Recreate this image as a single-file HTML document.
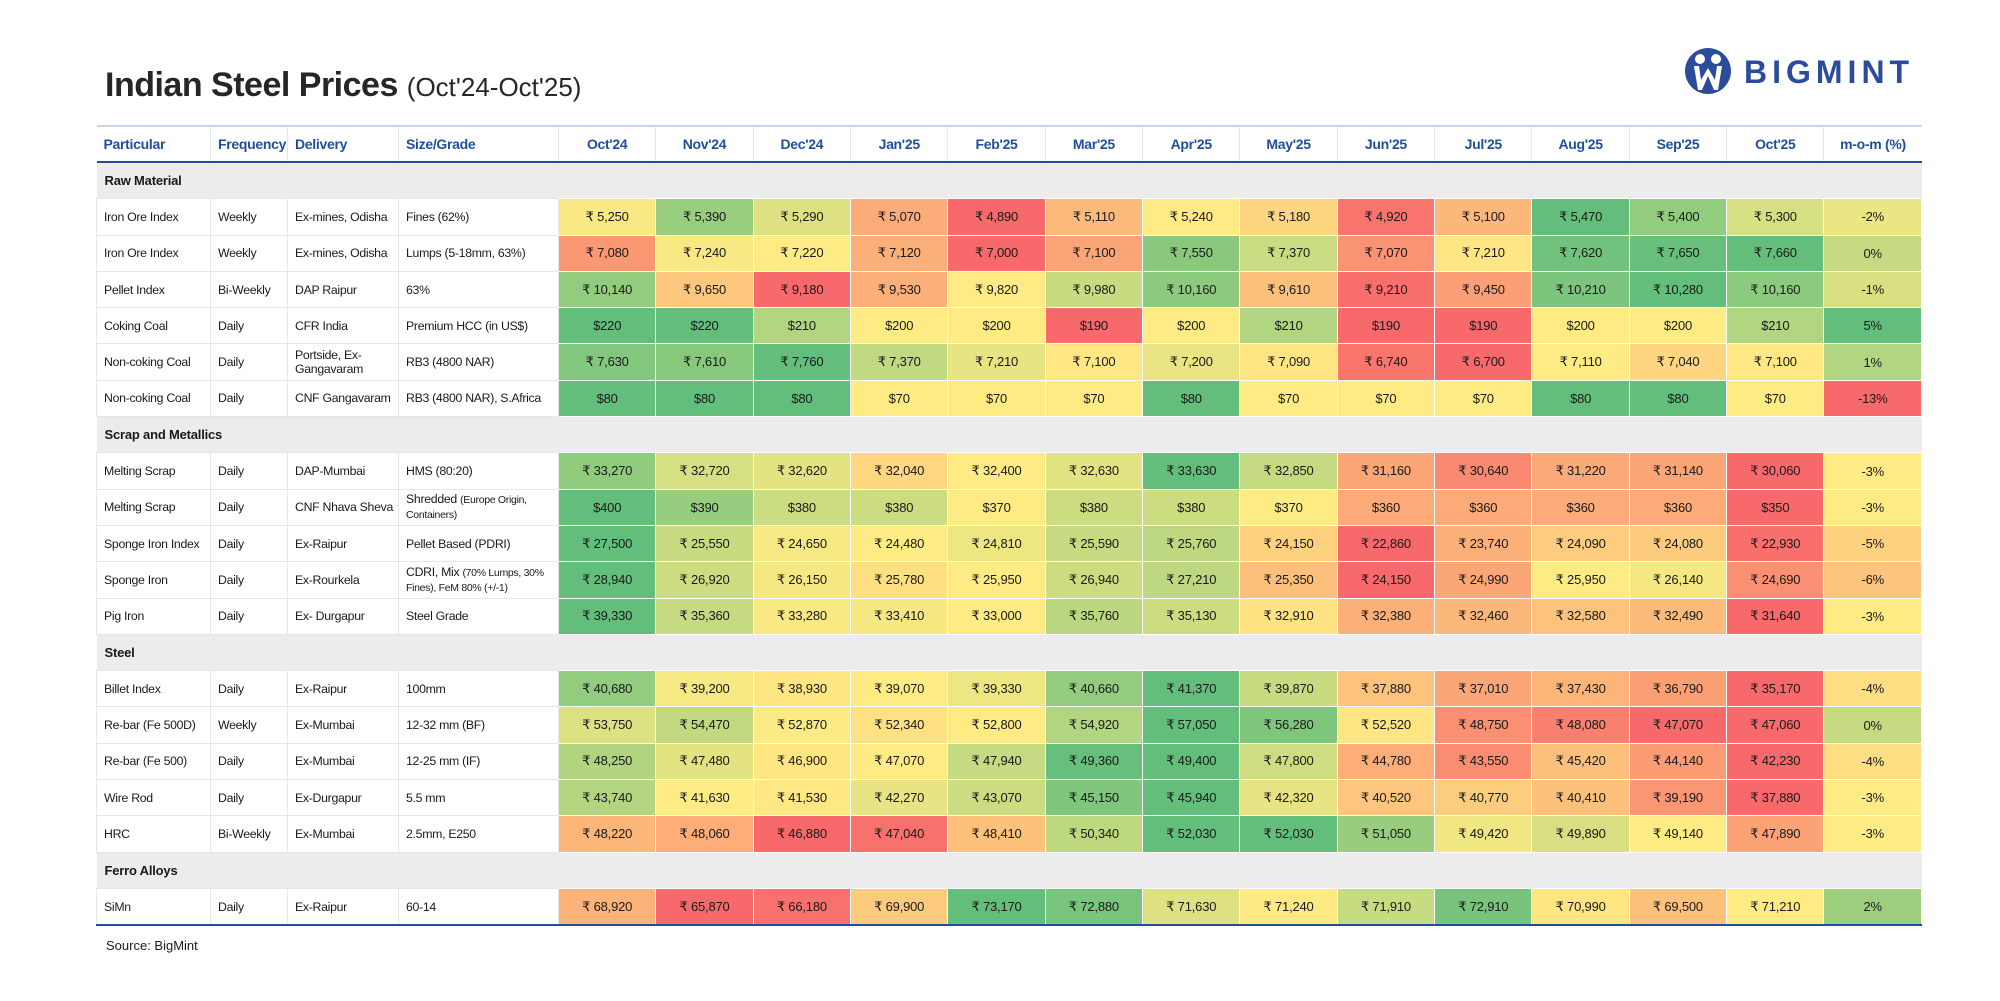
<!DOCTYPE html>
<html><head><meta charset="utf-8">
<style>
body{margin:0;width:2000px;height:1001px;background:#fff;font-family:"Liberation Sans",sans-serif;position:relative;overflow:hidden;}
#title{position:absolute;left:105px;top:66px;font-size:34px;font-weight:bold;color:#262626;letter-spacing:-0.5px;white-space:nowrap}
#title span{font-weight:normal;font-size:26px;letter-spacing:0}
#logo{position:absolute;left:1684px;top:46px}
table{position:absolute;left:96px;top:125px;border-collapse:collapse;table-layout:fixed;width:1826px;font-size:13px;color:#1a1a1a;letter-spacing:-0.2px}
th{height:34px;color:#1f4e9c;font-weight:bold;font-size:14px;letter-spacing:-0.3px;border-top:2px solid #c9d6e6;border-bottom:2px solid #1f4e9c;border-left:1px solid #e2e8ef;text-align:center;padding:0;white-space:nowrap}
th.l{text-align:left;padding-left:7px}
th:first-child{border-left:none}
td{padding:0;border:1px solid #e6e6e6;text-align:center;white-space:nowrap;overflow:hidden}
td>div{height:35.3px;display:flex;align-items:center;justify-content:center;overflow:hidden}
td.l>div{justify-content:flex-start;padding-left:7px;line-height:14px;white-space:normal;font-size:12.3px;letter-spacing:-0.3px;text-align:left}
td.c{border:1px solid #fff}
tr.cat td{background:#ececec;font-weight:bold;text-align:left;border:none}
tr.cat td>div{justify-content:flex-start;padding-left:8px}
tr.last td{border-bottom:2px solid #1f4e9c}
.sm{font-size:10.5px}
#src{position:absolute;left:106px;top:938px;font-size:13px;color:#1a1a1a}
</style></head><body>
<div id="title">Indian Steel Prices <span>(Oct'24-Oct'25)</span></div>
<svg id="logo" width="250" height="56" viewBox="0 0 250 56">
<circle cx="24" cy="25" r="23" fill="#2b4c9b"/>
<circle cx="16" cy="13" r="5" fill="#fff"/><circle cx="32" cy="13" r="5" fill="#fff"/>
<path d="M10 20 L14 44 L18 44 L24 30 L30 44 L34 44 L38 20 L33 20 L31 34 L24 22 L17 34 L15 20Z" fill="#fff"/>
<text x="60" y="37" font-family="Liberation Sans" font-weight="bold" font-size="32" fill="#2b4c9b" letter-spacing="5">BIGMINT</text>
</svg>
<table id="tbl">
<colgroup><col style="width:114px"><col style="width:77px"><col style="width:111px"><col style="width:160px"></colgroup>
<thead><tr id="hdr"></tr></thead><tbody id="body"></tbody></table>
<div id="src">Source: BigMint</div>
<script>
const months=["Oct'24","Nov'24","Dec'24","Jan'25","Feb'25","Mar'25","Apr'25","May'25","Jun'25","Jul'25","Aug'25","Sep'25","Oct'25"];
const categories=["Raw Material","Scrap and Metallics","Steel","Ferro Alloys"];
const rowCategory=[0,0,0,0,0,0,1,1,1,1,1,2,2,2,2,2,3];
const particulars=["Iron Ore Index","Iron Ore Index","Pellet Index","Coking Coal","Non-coking Coal","Non-coking Coal","Melting Scrap","Melting Scrap","Sponge Iron Index","Sponge Iron","Pig Iron","Billet Index","Re-bar (Fe 500D)","Re-bar (Fe 500)","Wire Rod","HRC","SiMn"];
const frequencies=["Weekly","Weekly","Bi-Weekly","Daily","Daily","Daily","Daily","Daily","Daily","Daily","Daily","Daily","Weekly","Daily","Daily","Bi-Weekly","Daily"];
const deliveries=["Ex-mines, Odisha","Ex-mines, Odisha","DAP Raipur","CFR India","Portside, Ex-Gangavaram","CNF Gangavaram","DAP-Mumbai","CNF Nhava Sheva","Ex-Raipur","Ex-Rourkela","Ex- Durgapur","Ex-Raipur","Ex-Mumbai","Ex-Mumbai","Ex-Durgapur","Ex-Mumbai","Ex-Raipur"];
const grades=["Fines (62%)","Lumps (5-18mm, 63%)","63%","Premium HCC (in US$)","RB3 (4800 NAR)","RB3 (4800 NAR), S.Africa","HMS (80:20)","Shredded <span class='sm'>(Europe Origin, Containers)</span>","Pellet Based (PDRI)","CDRI, Mix <span class='sm'>(70% Lumps, 30% Fines), FeM 80% (+/-1)</span>","Steel Grade","100mm","12-32 mm (BF)","12-25 mm (IF)","5.5 mm","2.5mm, E250","60-14"];
const currency=["₹","₹","₹","$","₹","$","₹","$","₹","₹","₹","₹","₹","₹","₹","₹","₹"];
const prices=[
[5250,5390,5290,5070,4890,5110,5240,5180,4920,5100,5470,5400,5300],
[7080,7240,7220,7120,7000,7100,7550,7370,7070,7210,7620,7650,7660],
[10140,9650,9180,9530,9820,9980,10160,9610,9210,9450,10210,10280,10160],
[220,220,210,200,200,190,200,210,190,190,200,200,210],
[7630,7610,7760,7370,7210,7100,7200,7090,6740,6700,7110,7040,7100],
[80,80,80,70,70,70,80,70,70,70,80,80,70],
[33270,32720,32620,32040,32400,32630,33630,32850,31160,30640,31220,31140,30060],
[400,390,380,380,370,380,380,370,360,360,360,360,350],
[27500,25550,24650,24480,24810,25590,25760,24150,22860,23740,24090,24080,22930],
[28940,26920,26150,25780,25950,26940,27210,25350,24150,24990,25950,26140,24690],
[39330,35360,33280,33410,33000,35760,35130,32910,32380,32460,32580,32490,31640],
[40680,39200,38930,39070,39330,40660,41370,39870,37880,37010,37430,36790,35170],
[53750,54470,52870,52340,52800,54920,57050,56280,52520,48750,48080,47070,47060],
[48250,47480,46900,47070,47940,49360,49400,47800,44780,43550,45420,44140,42230],
[43740,41630,41530,42270,43070,45150,45940,42320,40520,40770,40410,39190,37880],
[48220,48060,46880,47040,48410,50340,52030,52030,51050,49420,49890,49140,47890],
[68920,65870,66180,69900,73170,72880,71630,71240,71910,72910,70990,69500,71210]];
const momChange=[-2,0,-1,5,1,-13,-3,-3,-5,-6,-3,-4,0,-4,-3,-3,2];

const RED=[248,105,107],YEL=[255,235,132],GRN=[99,190,123];
function mix(a,b,t){return 'rgb('+a.map((v,i)=>Math.round(v+(b[i]-v)*t)).join(',')+')';}
function scale(vals){
  const s=[...vals].sort((a,b)=>a-b),mn=s[0],mx=s[s.length-1];
  const p=(s.length-1)*0.5,lo=Math.floor(p),mid=s[lo]+(s[Math.ceil(p)]-s[lo])*(p-lo);
  return v=>{if(v<=mid)return mix(RED,YEL,mid===mn?1:(v-mn)/(mid-mn));return mix(YEL,GRN,mx===mid?0:(v-mid)/(mx-mid));};
}
function cell(html,cls){const td=document.createElement('td');if(cls)td.className=cls;const d=document.createElement('div');const s=document.createElement('span');s.innerHTML=html;d.appendChild(s);td.appendChild(d);return td;}
const hdr=document.getElementById('hdr');
["Particular","Frequency","Delivery","Size/Grade"].concat(months,["m-o-m (%)"]).forEach((h,i)=>{
  const th=document.createElement('th');th.textContent=h;if(i<4)th.className='l';
  
  
  hdr.appendChild(th);
});
const body=document.getElementById('body');
const momScale=scale(momChange);
let lastCat=-1;
prices.forEach((vals,r)=>{
  if(rowCategory[r]!==lastCat){
    lastCat=rowCategory[r];
    const tr=document.createElement('tr');tr.className='cat';
    
    
    const td=cell(categories[lastCat]);td.colSpan=18;tr.appendChild(td);body.appendChild(tr);
  }
  const tr=document.createElement('tr');if(r===prices.length-1)tr.className='last';
  
  
  [particulars[r],frequencies[r],deliveries[r],grades[r]].forEach(t=>tr.appendChild(cell(t,'l')));
  const sc=scale(vals);
  vals.forEach(v=>{
    const td=cell(currency[r]==='$'?'$'+v.toLocaleString('en-US'):'₹ '+v.toLocaleString('en-US'),'c');
    
    
    td.style.background=sc(v);
    tr.appendChild(td);
  });
  const td=cell(momChange[r]+'%','c');
  
  
  td.style.background=momScale(momChange[r]);tr.appendChild(td);
  body.appendChild(tr);
});
</script>
</body></html>
